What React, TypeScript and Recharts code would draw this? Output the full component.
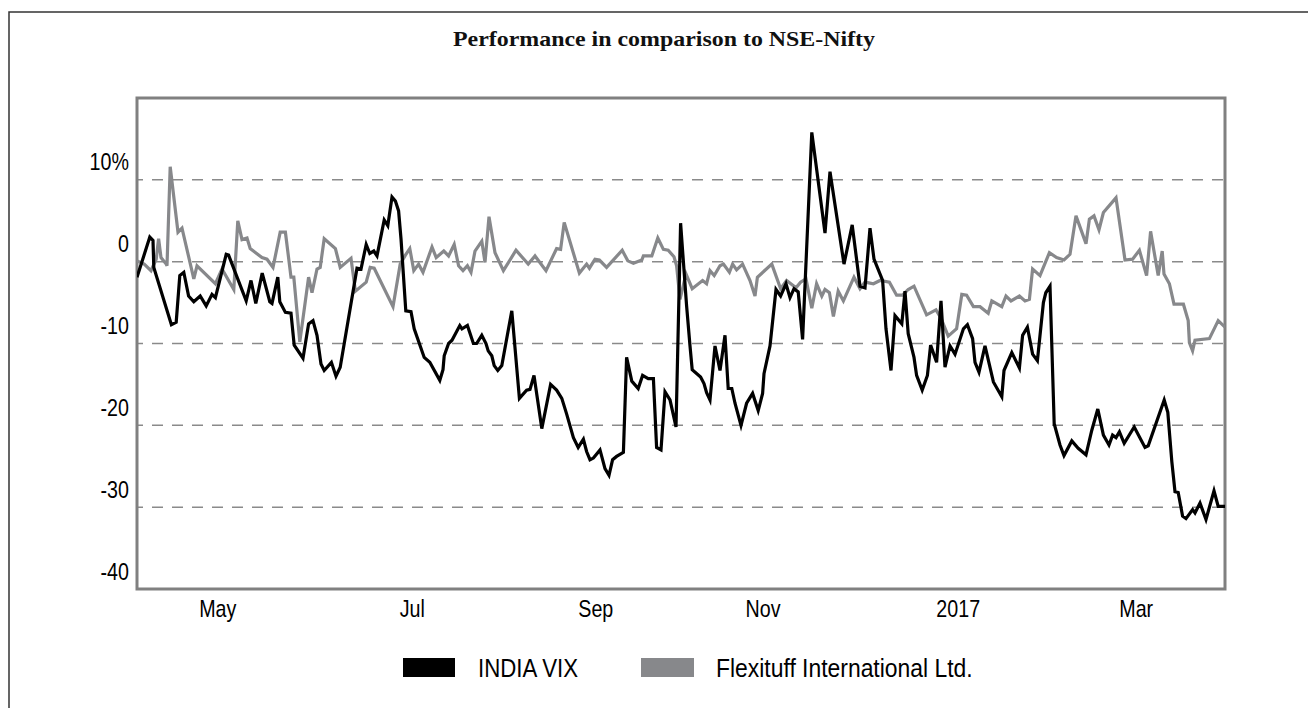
import React from "react";
import {
  CartesianGrid,
  Line,
  LineChart,
  ReferenceArea,
  XAxis,
  YAxis,
} from "recharts";

// trading-day index (0 = start of April 2016) and % performance vs NSE-Nifty
const VIX_POINTS: [number, number][] = [
  [0, -1.9], [3.2, 3.0], [4.0, 2.6], [4.2, -0.7], [8.6, -7.7], [9.8, -7.4], [10.7, -1.7],
  [11.7, -1.3], [12.9, -4.2], [14.2, -4.9], [15.8, -4.2], [17.3, -5.4], [18.75, -4.0],
  [19.6, -4.4], [22.3, 0.9], [22.9, 0.8], [27.3, -4.8], [28.5, -2.3], [29.7, -5.1],
  [31.3, -1.4], [33.2, -4.9], [33.75, -5.1], [35.2, -1.9], [35.7, -4.9], [37.1, -6.2],
  [38.5, -6.3], [39.3, -10.2], [41.5, -11.8], [42.9, -7.6], [44.0, -7.2], [45.0, -9.0],
  [46.0, -12.5], [46.8, -13.3], [48.6, -12.3], [49.75, -14.0], [50.8, -12.9], [55.0, -0.8],
  [56.0, -0.9], [57.3, 2.1], [58.2, 1.0], [59.2, 1.3], [60.0, 0.7], [61.8, 5.1], [62.7, 4.4],
  [63.75, 7.9], [64.6, 7.4], [65.4, 6.2], [66.0, 2.8], [67.2, -6.0], [68.5, -6.1],
  [69.3, -8.2], [71.8, -11.7], [73.2, -12.3], [75.7, -14.5], [76.5, -13.2], [76.8, -11.5],
  [77.9, -10.0], [78.75, -9.6], [80.7, -7.8], [81.25, -8.2], [82.6, -7.8], [84.1, -10.0],
  [84.9, -10.0], [86.2, -9.0], [87.25, -10.0], [87.8, -10.9], [88.7, -11.5], [89.3, -12.7],
  [90.2, -13.3], [91.2, -12.7], [93.7, -6.0], [95.6, -16.7], [97.4, -15.7], [98.25, -15.6],
  [99.25, -13.9], [101.2, -20.4], [103.4, -15.0], [104.9, -15.7], [106.2, -16.7],
  [107.4, -18.6], [109.1, -21.5], [110.3, -22.7], [111.6, -21.7], [112.4, -23.2],
  [113.25, -24.2], [114.1, -24.0], [115.75, -23.0], [117.0, -25.3], [118.0, -26.1],
  [118.9, -24.2], [119.9, -23.8], [121.6, -23.3], [122.4, -11.7], [123.7, -14.6],
  [125.3, -15.5], [126.4, -13.9], [127.8, -14.3], [129.1, -14.3], [129.9, -22.7],
  [131.0, -23.0], [132.0, -15.9], [133.25, -16.9], [134.75, -20.2], [135.9, 4.7],
  [137.4, -5.4], [138.25, -10.3], [138.8, -13.2], [140.9, -14.1], [141.75, -14.9],
  [142.4, -16.0], [143.25, -16.9], [144.5, -10.3], [145.75, -13.3], [147.0, -9.0],
  [147.8, -15.5], [148.7, -15.5], [149.5, -17.3], [151.0, -20.0], [152.4, -17.3],
  [153.9, -16.1], [155.3, -18.2], [156.4, -16.1], [156.75, -13.7], [158.25, -10.3],
  [159.75, -3.4], [160.9, -4.2], [162.25, -2.7], [163.25, -4.4], [164.25, -3.3],
  [165.3, -3.7], [166.4, -9.5], [168.7, 15.8], [172.0, 3.5], [173.25, 11.0], [176.75, -0.3],
  [178.8, 4.5], [180.75, -3.0], [182.0, -3.2], [183.25, 4.1], [184.25, 0.3], [186.4, -2.3],
  [187.25, -8.2], [188.5, -13.3], [189.5, -6.6], [191.2, -7.6], [192.0, -3.6], [192.8, -8.8],
  [194.25, -11.7], [194.9, -13.9], [196.3, -15.7], [197.6, -13.9], [198.4, -10.2],
  [199.9, -12.3], [201.0, -4.8], [202.0, -12.9], [203.25, -10.3], [204.5, -11.3],
  [206.6, -8.2], [207.6, -7.7], [208.9, -9.4], [209.5, -12.3], [210.5, -13.5], [212.0, -10.3],
  [214.1, -14.7], [216.2, -16.5], [216.75, -13.3], [218.7, -11.1], [220.6, -13.0],
  [221.4, -9.0], [222.6, -8.0], [223.9, -11.3], [225.1, -12.1], [226.6, -5.0], [227.2, -3.8],
  [228.25, -3.0], [229.3, -19.8], [230.75, -22.4], [231.75, -23.7], [233.7, -21.9],
  [235.3, -22.8], [237.25, -23.6], [238.7, -20.6], [240.2, -18.0], [241.6, -21.2],
  [243.0, -22.4], [243.9, -21.2], [244.75, -21.5], [245.6, -20.8], [246.8, -22.2],
  [249.3, -20.2], [252.0, -22.7], [252.8, -22.5], [256.8, -16.9], [257.7, -18.4],
  [258.7, -24.4], [259.5, -28.1], [260.3, -28.2], [261.4, -31.1], [262.25, -31.4],
  [263.9, -30.3], [264.5, -30.7], [265.75, -29.5], [267.25, -31.5], [269.25, -28.0],
  [270.3, -29.9], [272.0, -29.9],
];

const FLEX_POINTS: [number, number][] = [
  [0, 0.1], [1.8, -0.3], [3.5, -1.1], [4.8, 0.3], [5.4, 2.8], [6.0, 0.5], [7.3, -0.3],
  [7.5, -0.5], [8.3, 11.6], [10.25, 3.6], [11.25, 4.1], [14.2, -2.1], [15.0, -0.5],
  [19.6, -2.7], [21.25, -0.9], [24.2, -3.4], [25.2, 5.0], [26.25, 2.7], [27.5, 2.9],
  [28.3, 1.6], [31.25, 0.5], [32.5, 0.3], [34.0, -0.7], [35.8, 3.6], [37.1, 3.6],
  [38.5, -1.9], [39.2, -1.9], [40.7, -9.8], [42.9, -1.9], [43.75, -3.8], [45.0, -0.9],
  [45.8, -0.7], [46.8, 2.8], [49.6, 1.6], [50.8, -0.7], [53.5, 0.4], [54.6, -3.6],
  [57.3, -2.5], [58.3, -0.7], [59.3, -0.8], [60.0, -1.5], [64.0, -5.5], [65.8, -0.3],
  [67.1, 0.8], [68.2, 1.6], [69.2, -1.1], [70.4, -0.3], [71.5, -1.3], [73.75, 1.8],
  [74.8, 0.5], [76.7, 1.3], [77.9, 0.7], [79.3, 2.1], [80.4, -0.5], [81.5, -1.1],
  [82.6, -0.5], [83.5, -1.3], [84.5, 1.3], [86.2, 2.5], [87.0, -0.1], [88.0, 5.5],
  [89.5, 1.1], [91.6, -1.1], [94.75, 1.4], [97.8, -0.3], [99.5, 0.7], [102.25, -1.1],
  [104.9, 1.6], [105.9, 1.5], [106.8, 4.8], [110.6, -1.4], [112.4, -0.3], [113.1, -0.8],
  [114.5, 0.3], [115.6, 0.2], [117.4, -0.7], [121.3, 1.4], [122.7, 0.1], [124.1, -0.2],
  [126.2, 0.2], [126.6, 0.7], [128.7, 0.7], [130.2, 2.9], [131.6, 1.5], [132.8, 1.4],
  [134.25, 0.6], [134.9, -0.5], [135.75, -4.6], [137.25, -1.5], [138.8, -3.3],
  [141.4, -2.3], [142.4, -2.7], [143.25, -1.1], [144.3, -1.7], [145.75, -0.5],
  [146.6, -0.3], [148.1, -1.3], [148.9, -0.3], [149.9, -1.0], [151.4, -0.3], [153.25, -2.3],
  [154.5, -4.2], [155.1, -1.9], [158.7, -0.3], [160.9, -3.3], [162.4, -2.3], [164.75, -3.2],
  [165.9, -2.5], [167.25, -2.1], [168.7, -5.7], [169.9, -2.7], [171.2, -4.2], [172.0, -3.4],
  [173.1, -3.8], [174.1, -6.7], [175.3, -3.6], [176.6, -4.8], [179.25, -1.9], [180.75, -3.3],
  [182.0, -2.5], [184.1, -2.7], [185.75, -2.3], [188.1, -2.5], [189.9, -4.1], [191.4, -4.1],
  [192.8, -3.4], [194.25, -3.0], [197.4, -6.5], [199.75, -5.9], [201.0, -6.9], [202.8, -9.1],
  [204.9, -8.2], [206.2, -4.0], [207.4, -4.1], [209.1, -5.5], [210.75, -5.5], [212.8, -6.3],
  [213.7, -4.8], [216.2, -5.5], [217.25, -4.2], [218.5, -4.8], [220.6, -4.2], [222.0, -4.8],
  [223.1, -4.6], [223.9, -0.9], [225.75, -1.7], [228.1, 1.1], [229.9, 0.5], [231.75, 0.2],
  [233.25, 0.9], [234.75, 5.6], [237.25, 2.2], [238.1, 5.2], [239.25, 5.6], [240.5, 3.9],
  [241.6, 6.0], [244.75, 7.8], [247.0, 0.2], [248.9, 0.3], [250.6, 1.4], [252.4, -1.7],
  [253.4, 3.7], [255.3, -1.7], [256.3, 1.3], [256.75, -1.5], [258.1, -2.7], [259.25, -5.2],
  [261.6, -5.2], [262.8, -7.2], [263.1, -9.9], [263.9, -10.9], [264.5, -9.6], [268.1, -9.4],
  [270.3, -7.2], [272.0, -8.0],
];

const MONTH_TICKS = [20.2, 68.8, 114.7, 156.5, 205.3, 249.8];
const MONTH_LABELS = ["May", "Jul", "Sep", "Nov", "2017", "Mar"];
const Y_TICKS = [-40, -30, -20, -10, 0, 10, 20];

const vixData = VIX_POINTS.map(([day, value]) => ({ day, value }));
const flexData = FLEX_POINTS.map(([day, value]) => ({ day, value }));

const SANS = "'Liberation Sans', Arial, sans-serif";
const BLACK = "#000000";
const GREY = "#87888b";

function NarrowText({ x, y, size, anchor = "start", length, children }: any) {
  return (
    <text
      transform={`translate(${x},${y}) scale(0.82,1)`}
      textAnchor={anchor}
      fontSize={size}
      fontFamily={SANS}
      fill="#000"
      textLength={length}
      lengthAdjust={length ? "spacingAndGlyphs" : undefined}
    >
      {children}
    </text>
  );
}

function YTick({ y, payload }: any) {
  const v = payload.value;
  if (v === 20) return <g />;
  const label = v === 10 ? "10%" : String(v);
  return (
    <NarrowText x={129} y={y - 9.5} size={24} anchor="end">
      {label}
    </NarrowText>
  );
}

function XTick({ x, payload }: any) {
  const i = MONTH_TICKS.indexOf(payload.value);
  return (
    <NarrowText x={x} y={617} size={24} anchor="middle">
      {MONTH_LABELS[i]}
    </NarrowText>
  );
}

export default function App() {
  return (
    <div style={{ position: "absolute", left: 0, top: 0, width: 1308, height: 708, overflow: "hidden", background: "#fff" }}>
      <LineChart
        width={1308}
        height={708}
        margin={{ top: 98, right: 83, bottom: 79, left: 0 }}
      >
        <CartesianGrid
          vertical={false}
          stroke="#8a8a8a"
          strokeWidth={1.5}
          strokeDasharray="11 9"
          strokeDashoffset={5}
        />
        <XAxis
          dataKey="day"
          type="number"
          domain={[0, 272]}
          ticks={MONTH_TICKS}
          tick={<XTick />}
          axisLine={false}
          tickLine={false}
          height={40}
          allowDataOverflow
        />
        <YAxis
          type="number"
          domain={[-40, 20]}
          ticks={Y_TICKS}
          tick={<YTick />}
          axisLine={false}
          tickLine={false}
          width={137}
          allowDataOverflow
        />
        <Line
          data={flexData}
          dataKey="value"
          type="linear"
          stroke={GREY}
          strokeWidth={3.2}
          dot={false}
          activeDot={false}
          isAnimationActive={false}
        />
        <Line
          data={vixData}
          dataKey="value"
          type="linear"
          stroke={BLACK}
          strokeWidth={3.2}
          dot={false}
          activeDot={false}
          isAnimationActive={false}
        />
        <ReferenceArea
          x1={0}
          x2={272}
          y1={-40}
          y2={20}
          fill="none"
          fillOpacity={0}
          stroke="#808080"
          strokeWidth={3}
          ifOverflow="visible"
        />
      </LineChart>
      <svg
        width={1308}
        height={708}
        style={{ position: "absolute", left: 0, top: 0, pointerEvents: "none" }}
      >
        <path d="M9,708 L9,12 L1308,12" fill="none" stroke="#333" strokeWidth={1.5} />
        <text
          x={453}
          y={46}
          fontSize={22}
          fontWeight="bold"
          fontFamily="'Liberation Serif', 'Times New Roman', serif"
          textLength={422}
          lengthAdjust="spacingAndGlyphs"
          fill="#111"
        >
          Performance in comparison to NSE-Nifty
        </text>
        <rect x={403} y={658} width={52} height={19} fill={BLACK} />
        <NarrowText x={478} y={677} size={26.5} length={122}>INDIA VIX</NarrowText>
        <rect x={641} y={658} width={53} height={19} fill={GREY} />
        <NarrowText x={716} y={677} size={26.5} length={313}>Flexituff International Ltd.</NarrowText>
      </svg>
    </div>
  );
}
